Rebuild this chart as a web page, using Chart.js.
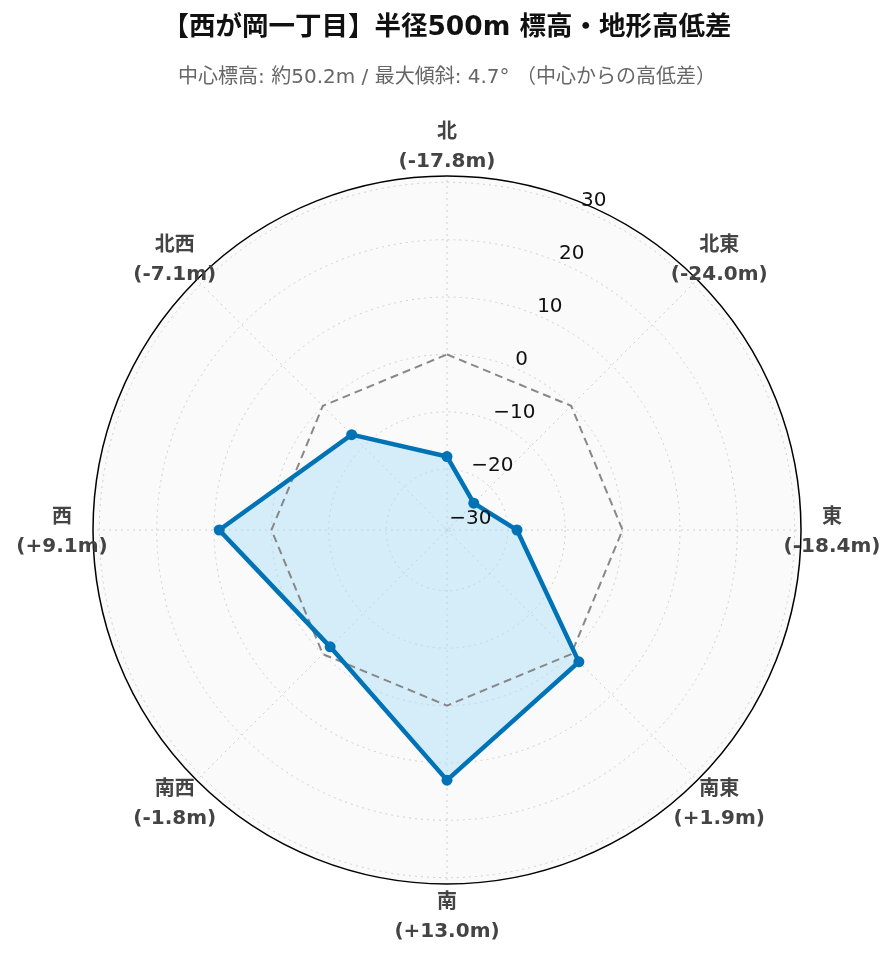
<!DOCTYPE html>
<html>
<head>
<meta charset="utf-8">
<script src="https://cdn.jsdelivr.net/npm/chart.js@4"></script>
<style>
  html, body { margin: 0; padding: 0; background: #fff; }
  #wrap { width: 896px; height: 962px; }
</style>
</head>
<body>
<div id="wrap"><canvas id="graficoRadar" width="896" height="962"></canvas></div>
<script>
// 方位と高低差（中心からの差, m）
const directions = ["北", "北東", "東", "南東", "南", "南西", "西", "北西"];
const diffs = [-17.8, -24.0, -18.4, 1.9, 13.0, -1.8, 9.1, -7.1];
const baseline = [0, 0, 0, 0, 0, 0, 0, 0];
const tickValues = [-30, -20, -10, 0, 10, 20, 30];
const rMin = -30.6;
const rMax = 31.1;

const titleText = "【西が岡一丁目】半径500m 標高・地形高低差";
const subtitleText = "中心標高: 約50.2m / 最大傾斜: 4.7° （中心からの高低差）";

const fontFam = "'DejaVu Sans', 'Noto Sans CJK JP'";

function fmtDiff(v) {
  return "(" + (v > 0 ? "+" : "") + v.toFixed(1) + "m)";
}

// disc background + tick labels + two-line direction labels
const polarDecor = {
  id: "polarDecor",
  beforeDraw(chart) {
    const s = chart.scales.r;
    const c = chart.ctx;
    c.save();
    c.beginPath();
    c.arc(s.xCenter, s.yCenter, s.drawingArea, 0, Math.PI * 2);
    c.fillStyle = "#fafafa";
    c.fill();
    c.restore();
  },
  afterDatasetsDraw(chart) {
    const s = chart.scales.r;
    const c = chart.ctx;
    c.save();
    // outer border
    c.beginPath();
    c.arc(s.xCenter, s.yCenter, s.drawingArea, 0, Math.PI * 2);
    c.strokeStyle = "#000";
    c.lineWidth = 1.5;
    c.stroke();

    // radial tick labels along the 22.5° axis
    c.font = "20px " + fontFam;
    c.fillStyle = "#111";
    c.textAlign = "left";
    c.textBaseline = "middle";
    tickValues.forEach(v => {
      const p = s.getPointPosition(0.5, s.getDistanceFromCenterForValue(v));
      c.fillText(String(v).replace("-", "\u2212"), p.x + 1, p.y - 8);
    });

    // direction labels
    c.fillStyle = "#444";
    c.textAlign = "center";
    c.font = "bold 20px " + fontFam;
    directions.forEach((d, i) => {
      const p = s.getPointPosition(i, s.drawingArea + 31);
      c.fillText(d, p.x, p.y - 12);
      c.fillText(fmtDiff(diffs[i]), p.x, p.y + 17);
    });
    c.restore();
  }
};

const ctx = document.getElementById("graficoRadar").getContext("2d");

const chart = new Chart(ctx, {
  type: "radar",
  data: {
    labels: directions,
    datasets: [
      {
        // fill only, drawn behind the dashed 0m line
        label: "高低差 (塗り)",
        data: diffs,
        borderWidth: 0,
        borderColor: "rgba(0,0,0,0)",
        backgroundColor: "rgba(173,223,247,0.5)",
        fill: "start",
        pointRadius: 0,
        order: 3
      },
      {
        label: "基準 (0m)",
        data: baseline,
        borderColor: "#888",
        borderWidth: 2,
        borderDash: [8, 5],
        fill: false,
        pointRadius: 0,
        order: 2
      },
      {
        label: "高低差",
        data: diffs,
        borderColor: "#0073b7",
        borderWidth: 4.5,
        fill: false,
        pointRadius: 5.5,
        pointBackgroundColor: "#0073b7",
        pointBorderColor: "#0073b7",
        pointBorderWidth: 0,
        order: 1
      }
    ]
  },
  options: {
    responsive: false,
    animation: false,
    layout: {
      padding: { left: 92, right: 94, top: 0, bottom: 77 }
    },
    scales: {
      r: {
        min: rMin,
        max: rMax,
        afterBuildTicks: axis => {
          axis.ticks = tickValues.map(v => ({ value: v }));
        },
        ticks: { display: false },
        pointLabels: { display: false },
        grid: {
          circular: true,
          color: "#d0d0d0",
          lineWidth: 1
        },
        border: {
          dash: [2, 4]
        },
        angleLines: {
          color: "#d0d0d0",
          lineWidth: 1,
          borderDash: [2, 4]
        }
      }
    },
    plugins: {
      legend: { display: false },
      tooltip: { enabled: false },
      title: {
        display: true,
        text: titleText,
        color: "#111",
        font: { family: fontFam, size: 26.5, weight: "bold", lineHeight: 1.1 },
        padding: { top: 14, bottom: 14 }
      },
      subtitle: {
        display: true,
        text: subtitleText,
        color: "#666",
        font: { family: fontFam, size: 20, lineHeight: 1.1 },
        padding: { top: 10, bottom: 87 }
      }
    }
  },
  plugins: [polarDecor]
});
</script>
</body>
</html>
